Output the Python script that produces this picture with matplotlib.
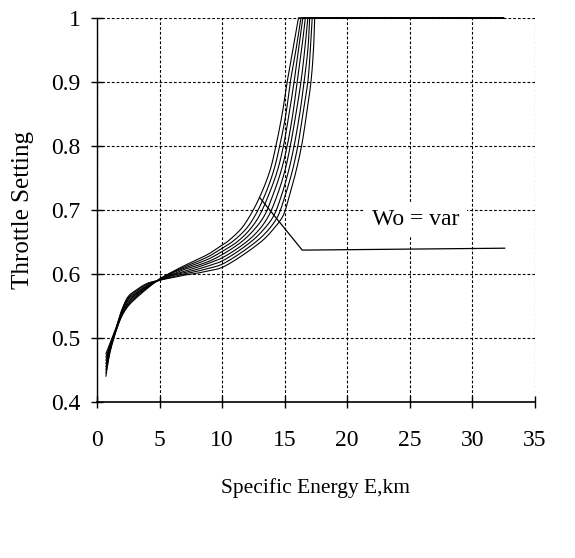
import matplotlib
matplotlib.use("Agg")
import matplotlib.pyplot as plt
import numpy as np

# Low-energy part: common E grid (km), throttle per curve
E_low = [0.7, 1.0, 1.5, 2.0, 2.5, 3.0, 4.0, 5.0, 6.0, 7.0, 8.0, 9.0, 10.0]
T_low = [
    [0.440, 0.475, 0.510, 0.535, 0.550, 0.560, 0.577, 0.592, 0.603, 0.613, 0.622, 0.632, 0.645],
    [0.445, 0.477, 0.511, 0.536, 0.552, 0.562, 0.578, 0.592, 0.602, 0.611, 0.619, 0.628, 0.640],
    [0.450, 0.479, 0.511, 0.538, 0.554, 0.564, 0.579, 0.591, 0.601, 0.609, 0.616, 0.624, 0.635],
    [0.455, 0.481, 0.512, 0.539, 0.556, 0.566, 0.580, 0.591, 0.599, 0.607, 0.613, 0.620, 0.630],
    [0.460, 0.483, 0.513, 0.541, 0.559, 0.567, 0.581, 0.591, 0.598, 0.604, 0.610, 0.617, 0.625],
    [0.465, 0.485, 0.513, 0.542, 0.561, 0.569, 0.582, 0.590, 0.597, 0.602, 0.607, 0.613, 0.620],
    [0.470, 0.487, 0.514, 0.544, 0.563, 0.571, 0.584, 0.590, 0.595, 0.600, 0.604, 0.609, 0.615],
    [0.475, 0.490, 0.515, 0.545, 0.565, 0.573, 0.585, 0.590, 0.594, 0.598, 0.601, 0.605, 0.610],
]

# Steep part: throttle levels and the energy (km) at which each curve reaches them
T_up = [0.65, 0.67, 0.69, 0.72, 0.76, 0.80, 0.85, 0.90, 0.95, 1.00]
E_up = [
    [10.40, 11.50, 12.20, 13.00, 13.80, 14.30, 14.80, 15.20, 15.65, 16.10],
    [10.80, 11.90, 12.60, 13.35, 14.10, 14.60, 15.10, 15.45, 15.90, 16.30],
    [11.20, 12.25, 12.95, 13.65, 14.40, 14.90, 15.35, 15.75, 16.10, 16.45],
    [11.55, 12.60, 13.35, 14.00, 14.70, 15.20, 15.65, 16.00, 16.35, 16.65],
    [11.95, 13.00, 13.70, 14.35, 15.00, 15.45, 15.90, 16.30, 16.60, 16.85],
    [12.30, 13.35, 14.10, 14.70, 15.30, 15.75, 16.20, 16.55, 16.85, 17.00],
    [12.70, 13.75, 14.45, 15.00, 15.60, 16.05, 16.45, 16.85, 17.05, 17.20],
    [13.10, 14.10, 14.85, 15.35, 15.90, 16.35, 16.75, 17.10, 17.30, 17.40],
]

# Full-throttle end point
E_end = 32.5
T_end = 1.0

# Annotation leader line
ann_x = [13.0, 16.4, 32.6]
ann_y = [0.719, 0.637, 0.640]
ann_text = "Wo = var"

x_ticks = [0, 5, 10, 15, 20, 25, 30, 35]
y_ticks = [0.4, 0.5, 0.6, 0.7, 0.8, 0.9, 1.0]
y_tick_labels = ["0.4", "0.5", "0.6", "0.7", "0.8", "0.9", "1"]


def smooth_path(xs, ys, sx=35.0, sy=0.6, n=12):
    """Centripetal Catmull-Rom drawing path through the given points."""
    P = np.column_stack([np.asarray(xs) / sx, np.asarray(ys) / sy])
    P = np.vstack([2 * P[0] - P[1], P, 2 * P[-1] - P[-2]])
    out = [P[1]]
    for i in range(1, len(P) - 2):
        p0, p1, p2, p3 = P[i - 1], P[i], P[i + 1], P[i + 2]
        t0 = 0.0
        t1 = t0 + np.linalg.norm(p1 - p0) ** 0.5 + 1e-9
        t2 = t1 + np.linalg.norm(p2 - p1) ** 0.5 + 1e-9
        t3 = t2 + np.linalg.norm(p3 - p2) ** 0.5 + 1e-9
        for t in np.linspace(t1, t2, n)[1:]:
            a1 = (t1 - t) / (t1 - t0) * p0 + (t - t0) / (t1 - t0) * p1
            a2 = (t2 - t) / (t2 - t1) * p1 + (t - t1) / (t2 - t1) * p2
            a3 = (t3 - t) / (t3 - t2) * p2 + (t - t2) / (t3 - t2) * p3
            b1 = (t2 - t) / (t2 - t0) * a1 + (t - t0) / (t2 - t0) * a2
            b2 = (t3 - t) / (t3 - t1) * a2 + (t - t1) / (t3 - t1) * a3
            c = (t2 - t) / (t2 - t1) * b1 + (t - t1) / (t2 - t1) * b2
            out.append(c)
    out = np.array(out)
    return out[:, 0] * sx, out[:, 1] * sy


plt.rcParams['font.family'] = ['Liberation Serif', 'DejaVu Serif']

fig = plt.figure(figsize=(5.75, 5.58), dpi=100)
ax = fig.add_axes([0.169, 0.28, 0.761, 0.688])

for tl, eu in zip(T_low, E_up):
    xs = list(E_low) + list(eu)
    ys = list(tl) + list(T_up)
    sx_, sy_ = smooth_path(xs, ys)
    sx_ = list(sx_) + [E_end]
    sy_ = list(np.minimum(sy_, 1.0)) + [T_end]
    ax.plot(sx_, sy_, color='black', lw=0.8, clip_on=False)

ax.plot(ann_x, ann_y, color='black', lw=0.9)
ax.text(22.0, 0.685, ann_text, fontsize=17, ha='left', va='center', zorder=5,
        bbox=dict(boxstyle='square,pad=0.3', facecolor='white', edgecolor='none'))

ax.set_xlim(0, 35)
ax.set_ylim(0.4, 1.0)
ax.set_xticks(x_ticks)
ax.set_yticks(y_ticks)
ax.set_yticklabels(y_tick_labels)
ax.tick_params(direction='inout', length=8, width=1, labelsize=17)
ax.tick_params(axis='x', pad=16)
ax.tick_params(axis='y', pad=8)
ax.grid(True, color='black', linestyle=(0, (2.5, 1.8)), linewidth=0.8)
ax.spines['top'].set_visible(False)
ax.spines['right'].set_visible(False)
ax.spines['left'].set_linewidth(1.0)
ax.spines['bottom'].set_linewidth(1.2)
ax.set_xlabel("Specific Energy E,km", fontsize=15.5, labelpad=20)
ax.set_ylabel("Throttle Setting", fontsize=18, labelpad=12)

fig.savefig("out.png", dpi=100)
